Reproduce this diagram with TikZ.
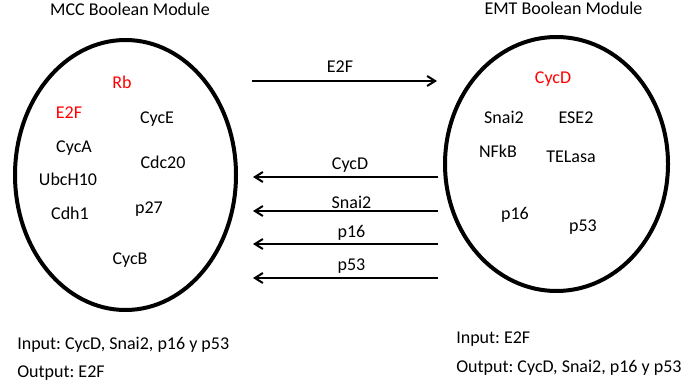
\documentclass[tikz,border=0pt]{standalone}
\usepackage{fontspec}
\setmainfont{Carlito}
\usetikzlibrary{arrows.meta, shapes.geometric}
\definecolor{actif}{HTML}{FF0000}
\frenchspacing

\begin{document}
\begin{tikzpicture}[
  x=0.75pt, y=-0.75pt,
  font=\fontsize{13.5}{16}\selectfont,
  module/.style={draw, ellipse, line width=3pt, inner sep=0pt},
  gene/.style={anchor=base, inner sep=0pt},
  sortie/.style={gene, text=actif},
  texte/.style={gene, anchor=base west},
  fl/.style={-{Straight Barb[length=6pt, width=7.5pt]}, line width=1.5pt},
  etiq/.style={midway, anchor=base, inner sep=0pt, yshift=6pt},
]
\useasboundingbox (0,0) rectangle (681,385);
% les deux modules
\node[gene] (titremcc) at (130,16) {MCC Boolean Module};
\node[gene] (titreemt) at (563.5,15) {EMT Boolean Module};
\node[module, minimum width=165.75pt, minimum height=202.5pt] (mcc) at (125.5,175) {};
\node[module, minimum width=167.25pt, minimum height=190.5pt] (emt) at (556.5,164) {};
% noeuds du module MCC
\node[sortie] (rb) at (122,89) {Rb};
\node[sortie] (e2f) at (69,118) {E2F};
\node[gene] (cyce) at (157,123) {CycE};
\node[gene] (cyca) at (74,152) {CycA};
\node[gene] (cdc20) at (163,168) {Cdc20};
\node[gene] (ubch10) at (68,185) {UbcH10};
\node[gene] (cdh1) at (70,219) {Cdh1};
\node[gene] (p27) at (149,213) {p27};
\node[gene] (cycb) at (130,264) {CycB};
% noeuds du module EMT
\node[sortie] (cycd) at (553,84) {CycD};
\node[gene] (snai2) at (504,123) {Snai2};
\node[gene] (ese2) at (576,123) {ESE2};
\node[gene] (nfkb) at (498,157) {NFkB};
\node[gene] (telasa) at (571,162) {TELasa};
\node[gene] (p16) at (515,219) {p16};
\node[gene] (p53) at (583,231) {p53};
% extremites des fleches
\coordinate (e2fdep) at (252,81);   \coordinate (e2farr) at (437,81);
\coordinate (cycddep) at (438,177); \coordinate (cycdarr) at (253,177);
\coordinate (snaidep) at (438,211); \coordinate (snaiarr) at (253,211);
\coordinate (p16dep) at (438,244);  \coordinate (p16arr) at (253,244);
\coordinate (p53dep) at (438,278);  \coordinate (p53arr) at (253,278);
% flux entre modules
\draw[fl] (e2fdep) -- node[etiq, xshift=-3.4pt] {E2F} (e2farr);
\draw[fl] (cycddep) -- node[etiq, xshift=3.4pt] {CycD} (cycdarr);
\draw[fl] (snaidep) -- node[etiq, xshift=4.5pt, yshift=-3.75pt] {Snai2} (snaiarr);
\draw[fl] (p16dep) -- node[etiq, xshift=4.5pt, yshift=-0.75pt] {p16} (p16arr);
\draw[fl] (p53dep) -- node[etiq, xshift=4.5pt] {p53} (p53arr);
% entrees et sorties
\node[texte] (entreemcc) at (17,349) {Input: CycD, Snai2, p16 y p53};
\node[texte] (sortiemcc) at (17,377) {Output: E2F};
\node[texte] (entreeemt) at (456,343) {Input: E2F};
\node[texte] (sortieemt) at (456,372) {Output: CycD, Snai2, p16 y p53};
\end{tikzpicture}
\end{document}
